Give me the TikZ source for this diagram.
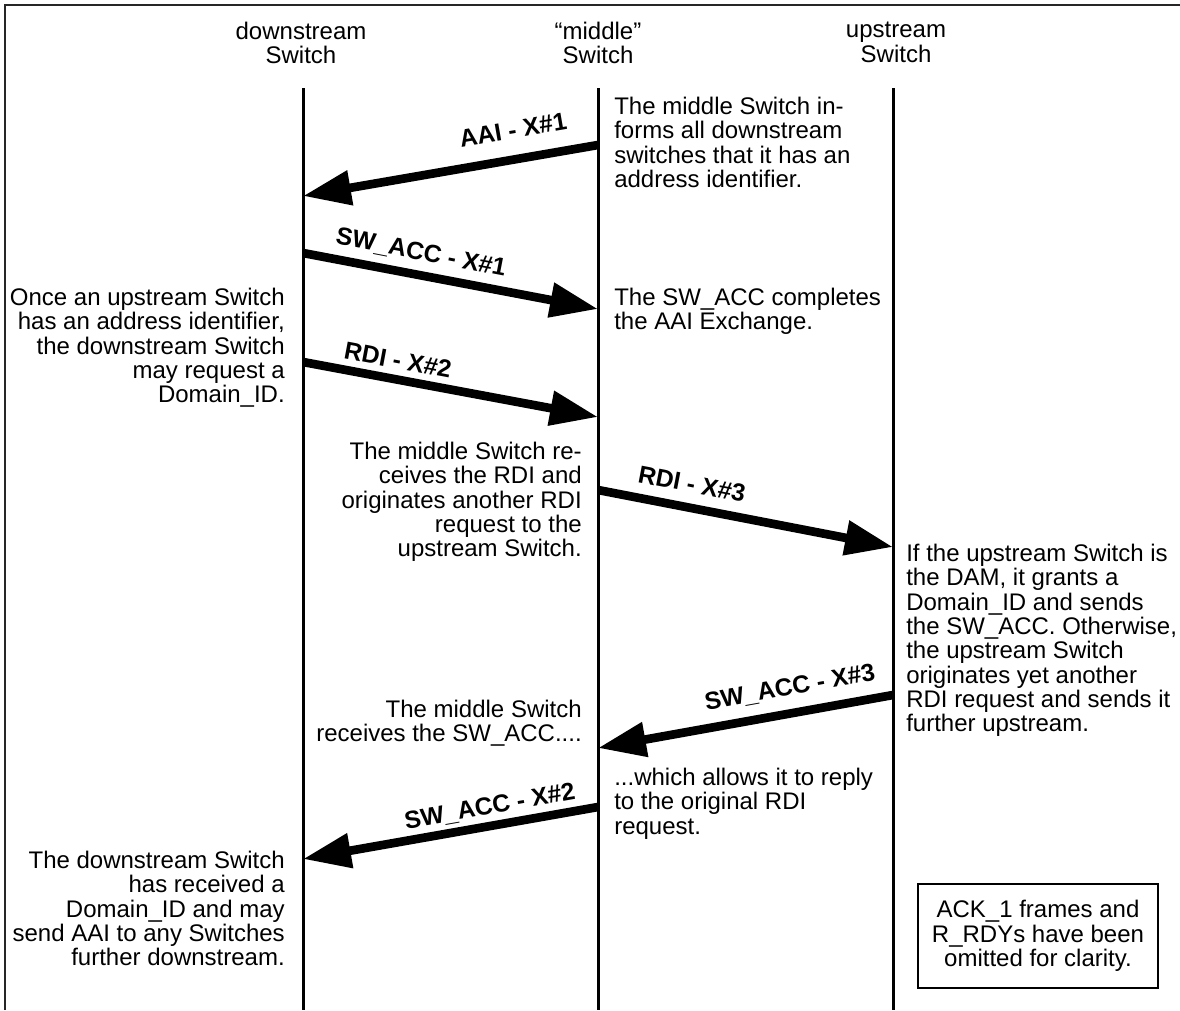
\documentclass[tikz,border=0pt]{standalone}
\usepackage{fontspec}
\setmainfont{Liberation Sans}
\usetikzlibrary{arrows.meta}
\begin{document}
\begin{tikzpicture}[x=0.75pt,y=-0.75pt,
  txt/.style={font=\fontsize{18}{18.2}\selectfont, inner sep=0pt},
  lbl/.style={font=\bfseries\fontsize{18.5}{18.5}\selectfont, inner sep=0pt},
  life/.style={line width=2.25pt},
  msg/.style={line width=6.5pt, -{Triangle[length=36pt,width=25pt]}},
  frame/.style={line width=1.5pt, draw=black!85},
  notebox/.style={txt, draw, line width=1.6pt, align=center,
    minimum width=180pt, minimum height=78pt},
]
\useasboundingbox (0,0) rectangle (1180,1010);

% outer frame (top and left rules)
\draw[frame] (5,1010) -- (5,5) -- (1180,5);

% switch headings
\node[txt, align=center, anchor=north] (hd) at (301,22) {downstream\\Switch};
\node[txt, align=center, anchor=north] (hm) at (598,22) {“middle”\\Switch};
\node[txt, align=center, anchor=north] (hu) at (896,22) {upstream\\Switch};

% lifelines
\coordinate (dTop) at (303,88);  \coordinate (dBot) at (303,1010);
\coordinate (mTop) at (598,88);  \coordinate (mBot) at (598,1010);
\coordinate (uTop) at (893,88);  \coordinate (uBot) at (893,1010);
\draw[life] (dTop) -- (dBot);
\draw[life] (mTop) -- (mBot);
\draw[life] (uTop) -- (uBot);

% message end points on the lifelines
\coordinate (a1s) at (598,145); \coordinate (a1e) at (303,196);
\coordinate (a2s) at (303,253); \coordinate (a2e) at (598,309);
\coordinate (a3s) at (303,362); \coordinate (a3e) at (598,417);
\coordinate (a4s) at (598,490); \coordinate (a4e) at (893,547);
\coordinate (a5s) at (893,695); \coordinate (a5e) at (598,748);
\coordinate (a6s) at (598,807); \coordinate (a6e) at (303,859);

% messages
\draw[msg] (a1s) -- (a1e);
\draw[msg] (a2s) -- (a2e);
\draw[msg] (a3s) -- (a3e);
\draw[msg] (a4s) -- (a4e);
\draw[msg] (a5s) -- (a5e);
\draw[msg] (a6s) -- (a6e);

% message labels
\node[lbl, rotate=9.8]   (l1) at (513,130) {AAI - X\#1};
\node[lbl, rotate=-10.9] (l2) at (421,253) {SW\_ACC - X\#1};
\node[lbl, rotate=-10.6] (l3) at (398,360) {RDI - X\#2};
\node[lbl, rotate=-10.9] (l4) at (692,484) {RDI - X\#3};
\node[lbl, rotate=10.2]  (l5) at (790,688) {SW\_ACC - X\#3};
\node[lbl, rotate=10.0]  (l6) at (490,807) {SW\_ACC - X\#2};

% explanatory text
\node[txt, align=left, anchor=north west] (tA) at (614,97)
  {The middle Switch in-\\forms all downstream\\switches that it has an\\address identifier.};
\node[txt, align=left, anchor=north west] (tB) at (614,288)
  {The SW\_ACC completes\\the AAI Exchange.};
\node[txt, align=right, anchor=north east] (tC) at (285,288)
  {Once an upstream Switch\\has an address identifier,\\the downstream Switch\\may request a\\Domain\_ID.};
\node[txt, align=right, anchor=north east] (tD) at (582,442)
  {The middle Switch re-\\ceives the RDI and\\originates another RDI\\request to the\\upstream Switch.};
\node[txt, align=left, anchor=north west] (tE) at (906,544)
  {If the upstream Switch is\\the DAM, it grants a\\Domain\_ID and sends\\the SW\_ACC. Otherwise,\\the upstream Switch\\originates yet another\\RDI request and sends it\\further upstream.};
\node[txt, align=right, anchor=north east] (tF) at (582,700)
  {The middle Switch\\receives the SW\_ACC....};
\node[txt, align=left, anchor=north west] (tG) at (614,768)
  {...which allows it to reply\\to the original RDI\\request.};
\node[txt, align=right, anchor=north east] (tH) at (285,851)
  {The downstream Switch\\has received a\\Domain\_ID and may\\send AAI to any Switches\\further downstream.};

% note box
\node[notebox] (note) at (1038,936)
  {ACK\_1 frames and\\R\_RDYs have been\\omitted for clarity.};
\end{tikzpicture}
\end{document}
